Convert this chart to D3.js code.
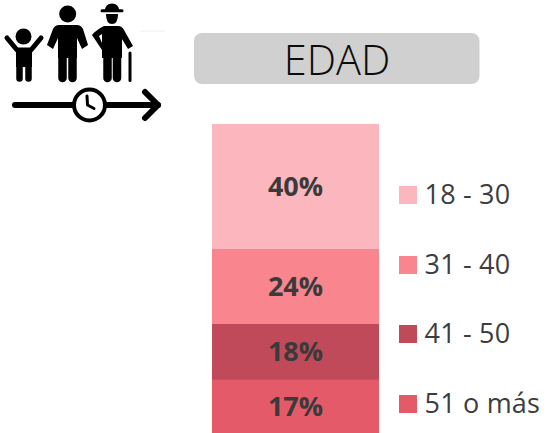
<!DOCTYPE html>
<html><head><meta charset="utf-8">
<script src="https://cdn.jsdelivr.net/npm/d3@7/dist/d3.min.js"></script>
<style>html,body{margin:0;padding:0;background:#fff}svg{display:block}</style>
</head><body><svg id="c" width="548" height="433"></svg>
<script>
const categories=["18 - 30","31 - 40","41 - 50","51 o más"];
const values=[40,24,18,17];
const colors=["#fbb7bd","#f9858f","#c04a59","#e55a69"];
const legendY=[195,265,334,404];
const titleText="EDAD";

const svg=d3.select("#c");
const font="'Open Sans','Noto Sans',sans-serif";
const total=d3.sum(values);
const y=d3.scaleLinear().domain([0,total]).range([124,433]);
const x=d3.scaleBand().domain(["EDAD"]).range([212,379]);
let cum=0;
const stack=values.map((v,i)=>{const s={v,i,y0:cum,y1:cum+v};cum+=v;return s;});

svg.append("rect").attr("x",194).attr("y",33).attr("width",285.5).attr("height",51).attr("rx",8).attr("fill","#d0d0d0");
svg.append("text").attr("x",337).attr("y",75).attr("text-anchor","middle")
  .attr("font-family",font).attr("font-weight",300).attr("font-size",41.5).attr("fill","#0c0c0c").text(titleText);

svg.selectAll("rect.seg").data(stack).join("rect").attr("class","seg")
  .attr("x",x("EDAD")).attr("width",x.bandwidth())
  .attr("y",d=>y(d.y0)).attr("height",d=>y(d.y1)-y(d.y0)).attr("fill",d=>colors[d.i]);
svg.selectAll("text.lab").data(stack).join("text").attr("class","lab")
  .attr("x",x("EDAD")+x.bandwidth()/2).attr("y",d=>(y(d.y0)+y(d.y1))/2+9.5)
  .attr("text-anchor","middle").attr("font-family",font).attr("font-weight",700).attr("font-size",27)
  .attr("fill","#3a3a3a").text(d=>d.v+"%");

const lg=svg.selectAll("g.lg").data(categories).join("g").attr("class","lg")
  .attr("transform",(d,i)=>`translate(399,${legendY[i]})`);
lg.append("rect").attr("y",-9).attr("width",18).attr("height",18).attr("fill",(d,i)=>colors[i]);
lg.append("text").attr("x",25.5).attr("y",8.5).attr("font-family",font).attr("font-size",27)
  .attr("letter-spacing",0.2).attr("fill","#3d3d3d").text(d=>d);

// icon
const ic=svg.append("g").attr("fill","#000").attr("stroke","none");
const line=(pts,w,col="#000")=>ic.append("path").attr("d",d3.line()(pts)).attr("fill","none").attr("stroke",col).attr("stroke-width",w).attr("stroke-linecap","round").attr("stroke-linejoin","round");
// child
ic.append("circle").attr("cx",23.5).attr("cy",36.5).attr("r",8);
line([[7,38],[17,50],[31,50],[41,38]],5);
ic.append("rect").attr("x",16).attr("y",48).attr("width",16).attr("height",19);
line([[19.5,62],[19.5,78.5]],6.5);line([[28.5,62],[28.5,78.5]],6.5);
// adult
ic.append("circle").attr("cx",67.7).attr("cy",14).attr("r",8.5);
ic.append("path").attr("d","M59 25H77Q81 25 83 29L88 45L82 49L77 38V58H58V38L53 49L47 45L53 29Q55 25 59 25Z");
line([[62.5,56],[62.5,78]],8.5);line([[72.5,56],[72.5,78]],8.5);
// elder
ic.append("path").attr("d","M105 11Q105 3.5 112 3.5Q119 3.5 119 11Z");
line([[102,10.8],[122,10.8]],3);
ic.append("path").attr("d","M106 14H118Q118 24 112 24Q106 24 106 14Z");
ic.append("path").attr("d","M104 26H118Q122 26 124 30L133 46L128 49L122 39V58H102V50L92 35Q96 30 104 26Z");
ic.append("path").attr("d","M99 36L102 34L102 43Z").attr("fill","#fff");
line([[107.5,56],[107.5,78]],8.5);line([[117,56],[117,78]],8.5);
line([[130,53],[130,80.5]],3);
// faint mark
ic.append("path").attr("d","M140 31H165").attr("stroke","#eee").attr("stroke-width",1);
// arrow + clock
line([[15,105],[158,105]],6);
line([[145,92],[158,105],[145,118]],6);
ic.append("circle").attr("cx",89.5).attr("cy",105).attr("r",15.5).attr("fill","#fff").attr("stroke","#000").attr("stroke-width",4);
line([[87,96],[87.5,105],[94,108.5]],3);
</script></body></html>
